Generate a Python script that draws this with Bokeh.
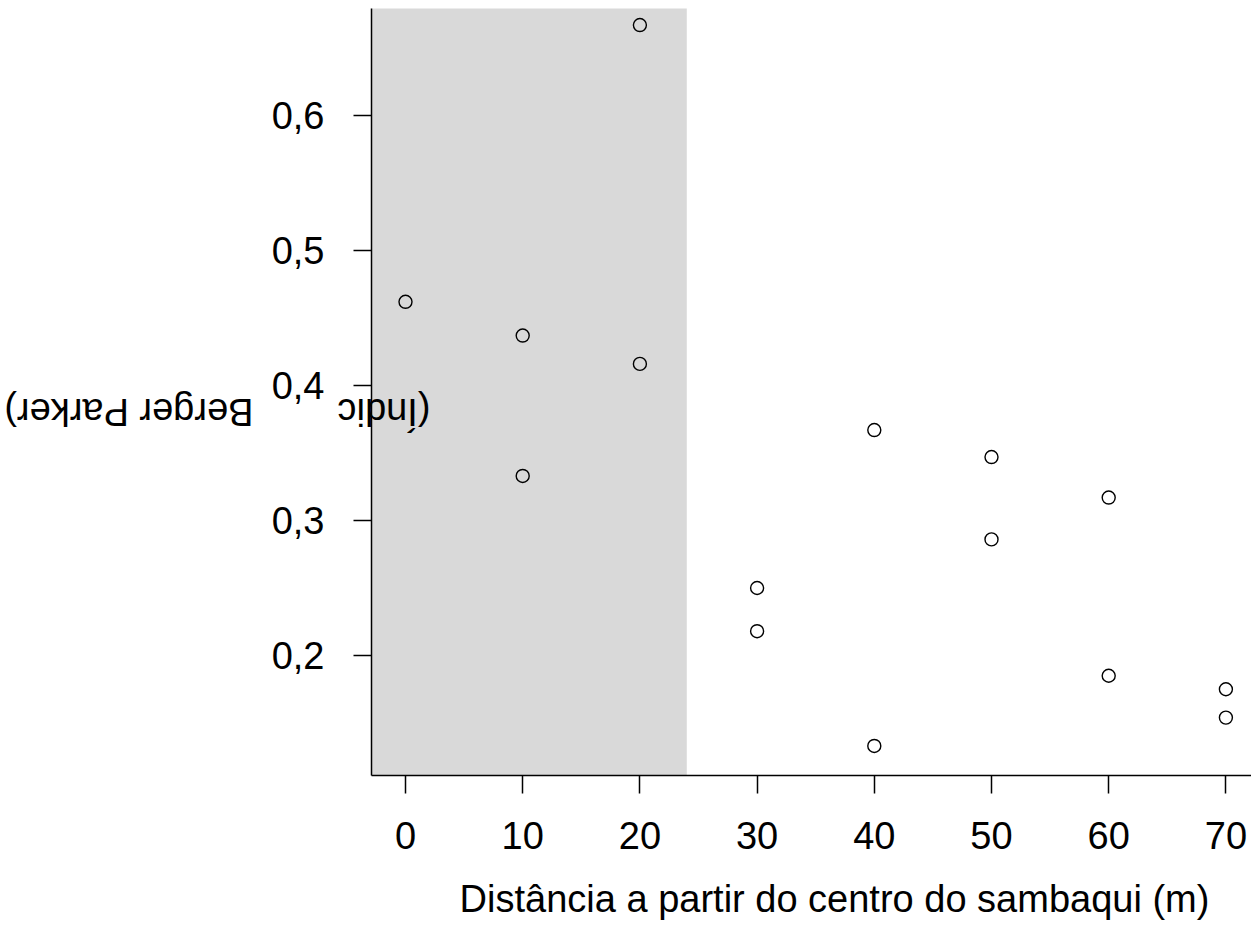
from bokeh.plotting import figure
from bokeh.models import Range1d, FixedTicker, CustomJSTickFormatter
from bokeh.core.properties import value
from bokeh.embed import file_html
from bokeh.resources import INLINE

# ---- data ----
distance_m = [0, 10, 10, 20, 20, 30, 30, 40, 40, 50, 50, 60, 60, 70, 70]
berger_parker = [0.462, 0.437, 0.333, 0.667, 0.416, 0.250, 0.218, 0.367, 0.133,
                 0.347, 0.286, 0.317, 0.185, 0.175, 0.154]
x_ticks = [0, 10, 20, 30, 40, 50, 60, 70]
y_ticks = [0.2, 0.3, 0.4, 0.5, 0.6]
shade_end = [24]
x_title = "Distância a partir do centro do sambaqui (m)"
y_title_visible_start = "(Índic"
y_title_visible_end = "Berger Parker)"

FONT = "Liberation Sans"
FS = "38px"

# ---- page-pixel -> data mapping (layout only) ----
def px_to_x(px):
    return (px - 405.0) / 11.72

def py_to_y(py):
    return 0.6 - (py - 115.0) / 1350.0

W, H = 1251, 930
PLOT_L, PLOT_R, PLOT_T, PLOT_B = 371, 1251, 8, 775

p = figure(width=W, height=H, output_backend="svg", toolbar_location=None,
           x_range=Range1d(px_to_x(0), px_to_x(W)),
           y_range=Range1d(py_to_y(H), py_to_y(0)),
           min_border=0, min_border_left=0, min_border_right=0,
           min_border_top=0, min_border_bottom=0)
p.outline_line_color = None
p.grid.visible = False
p.background_fill_color = "white"
p.border_fill_color = "white"

# shaded band (from plot-region start to shade_end)
p.quad(left=[px_to_x(PLOT_L)], right=shade_end,
       bottom=[py_to_y(PLOT_B)], top=[py_to_y(PLOT_T)],
       fill_color="#D9D9D9", line_color=None, level="underlay")

p.scatter(distance_m, berger_parker, size=13, marker="circle", fill_color=None,
          line_color="black", line_width=1.4)

fmt = CustomJSTickFormatter(code="return tick.toFixed(1).replace('.', ',');")
xa, ya = p.xaxis[0], p.yaxis[0]
xa.fixed_location = py_to_y(PLOT_B)
ya.fixed_location = px_to_x(PLOT_L)
xa.bounds = (px_to_x(PLOT_L), px_to_x(PLOT_R + 5))
ya.bounds = (py_to_y(PLOT_B), py_to_y(PLOT_T))
for ax, ticks in ((xa, x_ticks), (ya, y_ticks)):
    ax.ticker = FixedTicker(ticks=ticks)
    ax.minor_tick_line_color = None
    ax.major_tick_in = 0
    ax.major_tick_out = 18
    ax.axis_line_width = 1.5
    ax.major_tick_line_width = 1.5
    ax.axis_line_color = "black"
    ax.major_tick_line_color = "black"
    ax.major_label_text_font = FONT
    ax.major_label_text_font_size = FS
    ax.major_label_text_color = "black"
ya.formatter = fmt
ya.major_label_standoff = 29
xa.major_label_standoff = 28

# axis titles
p.text(x=[px_to_x(834)], y=[py_to_y(898)], text=[x_title],
       text_align="center", text_baseline="alphabetic",
       text_font=value(FONT), text_font_size=FS, text_color="black")
p.text(x=[px_to_x(430), px_to_x(253)], y=[py_to_y(411), py_to_y(411)],
       text=[y_title_visible_start, y_title_visible_end],
       angle=3.14159265, text_align="left", text_baseline="alphabetic",
       text_font=value(FONT), text_font_size=FS, text_color="black")

open("out.html", "w").write(file_html(p, INLINE))
